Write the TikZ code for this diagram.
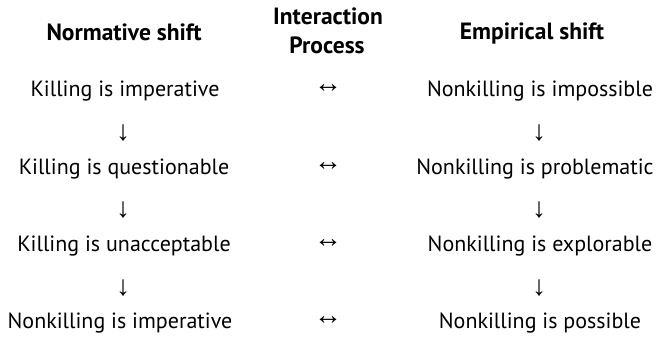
\documentclass[tikz,border=0pt]{standalone}
\usepackage{fontspec}
\setmainfont{PT Sans}
\newfontfamily\arrfont{Liberation Sans}
\begin{document}
\begin{tikzpicture}[x=1pt,y=-1pt,
  lbl/.style={anchor=base,inner sep=0pt,font=\fontsize{22}{24}\selectfont},
  head/.style={anchor=base,inner sep=0pt,font=\fontsize{23.5}{26}\selectfont\bfseries},
  arr/.style={inner sep=0pt,font=\arrfont\fontsize{28}{30}\selectfont}]
\useasboundingbox (0,0) rectangle (668,337);
% headings
\node[head] (hn) at (124,41) {Normative shift};
\node[head] (hi1) at (328,25) {Interaction};
\node[head] (hi2) at (327,53) {Process};
\node[head] (he) at (532,40) {Empirical shift};
% left column
\node[lbl] (n1) at (125,96) {Killing is imperative};
\node[lbl] (n2) at (124,174) {Killing is questionable};
\node[lbl] (n3) at (124,251) {Killing is unacceptable};
\node[lbl] (n4) at (120,328) {Nonkilling is imperative};
% right column
\node[lbl] (e1) at (540,96) {Nonkilling is impossible};
\node[lbl] (e2) at (535,174) {Nonkilling is problematic};
\node[lbl] (e3) at (540,251) {Nonkilling is explorable};
\node[lbl] (e4) at (540,328) {Nonkilling is possible};
% interaction arrows
\node[arr] (i1) at (328,89) {↔};
\node[arr] (i2) at (328,167) {↔};
\node[arr] (i3) at (328,244) {↔};
\node[arr] (i4) at (328,321) {↔};
% downward arrows
\node[arr] (dl1) at (123,133) {↓};
\node[arr] (dl2) at (123,210) {↓};
\node[arr] (dl3) at (123,288) {↓};
\node[arr] (dr1) at (539,133) {↓};
\node[arr] (dr2) at (539,210) {↓};
\node[arr] (dr3) at (539,288) {↓};
\end{tikzpicture}
\end{document}
